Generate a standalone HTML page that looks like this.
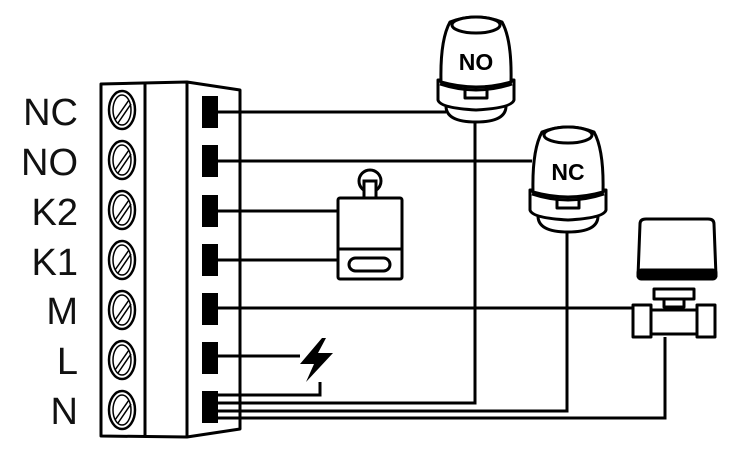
<!DOCTYPE html>
<html><head><style>html,body{margin:0;padding:0;background:#fff;}svg{display:block}</style></head>
<body>
<svg width="733" height="464" viewBox="0 0 733 464" xmlns="http://www.w3.org/2000/svg">
<g font-family="Liberation Sans, sans-serif" font-size="38" fill="#111" text-anchor="end">
<text x="78" y="125">NC</text>
<text x="78" y="175">NO</text>
<text x="78" y="225">K2</text>
<text x="78" y="275">K1</text>
<text x="78" y="324">M</text>
<text x="78" y="374">L</text>
<text x="78" y="424">N</text>
</g>
<g stroke="#000" stroke-width="3" fill="none" stroke-linejoin="round">
<path d="M101 84 L187 82 L240 90 L240 429 L187 437 L101 436 Z" fill="#fff"/>
<line x1="145" y1="83" x2="145" y2="437"/>
<line x1="187" y1="82" x2="187" y2="437"/>
<g stroke-width="2.5">
<g id="s"><ellipse cx="122" cy="110" rx="13" ry="19"/><ellipse cx="122" cy="110" rx="9" ry="15" stroke-width="1.5"/><line x1="115" y1="120" x2="129" y2="100" stroke-width="1.5"/><line x1="118" y1="123" x2="131" y2="104" stroke-width="1.5"/></g>
<use href="#s" y="50"/><use href="#s" y="100"/><use href="#s" y="150"/><use href="#s" y="200"/><use href="#s" y="250"/><use href="#s" y="300"/>
</g>
</g>
<g fill="#000">
<rect x="202" y="96" width="16" height="32"/>
<rect x="202" y="145" width="16" height="32"/>
<rect x="202" y="195" width="16" height="32"/>
<rect x="202" y="244" width="16" height="32"/>
<rect x="202" y="293" width="16" height="32"/>
<rect x="202" y="342" width="16" height="32"/>
<rect x="202" y="391" width="16" height="32"/>
</g>
<g stroke="#000" stroke-width="3" fill="none">
<line x1="218" y1="112" x2="446" y2="112"/>
<line x1="218" y1="161" x2="532" y2="161"/>
<line x1="218" y1="211" x2="338" y2="211"/>
<line x1="218" y1="260" x2="338" y2="260"/>
<line x1="218" y1="308" x2="633" y2="308"/>
<line x1="218" y1="356" x2="300" y2="356"/>
<polyline points="218,395 320,395 320,382"/>
<polyline points="218,403 475,403 475,122"/>
<polyline points="218,411 567,411 567,230"/>
<polyline points="218,418 665,418 665,337"/>
</g>
<path d="M322 338 L300 364 L314 364 L306 382 L333 353 L318 353 L326 338 Z" fill="#000"/>
<g stroke="#000" stroke-width="3" fill="#fff">
<circle cx="370" cy="181" r="11"/>
<rect x="364" y="181" width="12" height="18"/>
<rect x="338" y="198" width="64" height="81" rx="2"/>
<line x1="338" y1="249" x2="402" y2="249"/>
<rect x="349" y="258" width="41" height="13" rx="6.5"/>
</g>
<g id="act" stroke="#000" stroke-width="3" fill="#fff" stroke-linejoin="round">
<path d="M446 106 Q446 122 476 122 Q506 122 506 106 Z"/>
<path d="M438 80 L438 100 Q440 108 476 110 Q512 108 514 100 L514 80 Z"/>
<path d="M441 82 Q440 40 450 22 Q476 12 502 22 Q512 40 511 82 Q476 92 441 82 Z"/>
<ellipse cx="476" cy="25" rx="24" ry="8"/>
<path d="M465 85 L465 98 L487 98 L487 85" fill="none"/>
<path d="M440 84 Q476 96 512 84" fill="none"/>
</g>
<text x="476" y="70" font-family="Liberation Sans, sans-serif" font-size="23" font-weight="bold" text-anchor="middle" fill="#000">NO</text>
<use href="#act" x="92" y="110"/>
<text x="568" y="180" font-family="Liberation Sans, sans-serif" font-size="23" font-weight="bold" text-anchor="middle" fill="#000">NC</text>
<g stroke="#000" stroke-width="3" fill="#fff" stroke-linejoin="round">
<path d="M640 224 Q640 219 646 219 L708 219 Q714 219 714 224 L716 276 L638 276 Z"/>
<rect x="638" y="270" width="78" height="9" rx="3" fill="#000"/>
<rect x="654" y="289" width="40" height="10"/>
<rect x="664" y="299" width="20" height="8"/>
<rect x="633" y="305" width="18" height="32"/>
<rect x="697" y="305" width="18" height="32"/>
<rect x="651" y="310" width="46" height="24"/>
</g>
</svg>
</body></html>
